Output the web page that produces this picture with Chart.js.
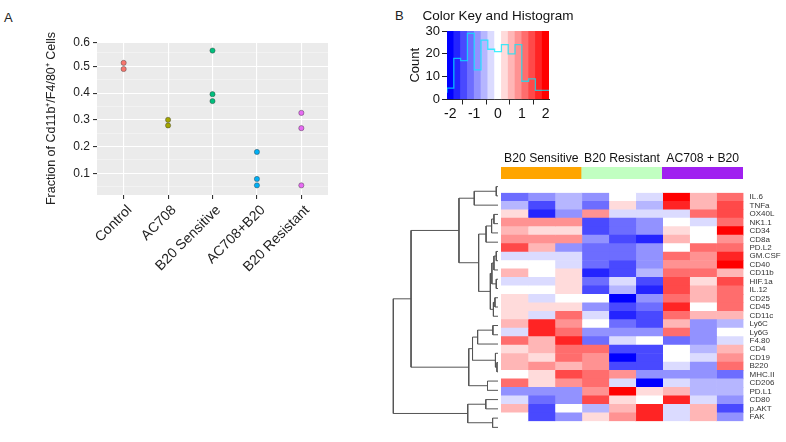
<!DOCTYPE html>
<html>
<head>
<meta charset="utf-8">
<script src="https://cdn.jsdelivr.net/npm/chart.js@4.4.1/dist/chart.umd.min.js"></script>
<style>
html, body { margin: 0; padding: 0; background: #fff; }
#page { position: relative; width: 786px; height: 442px; overflow: hidden; font-family: 'Liberation Sans', Arial, sans-serif; }
canvas { position: absolute; }
.panel { position: absolute; font-size: 13px; color: #222; }
</style>
</head>
<body>
<div id="page">
  <div class="panel" style="left:4px;top:10px">A</div>
  <div class="panel" style="left:395px;top:8px">B</div>
  <canvas id="scatterA" width="390" height="300" style="left:0;top:0"></canvas>
  <canvas id="colorKey" width="190" height="125" style="left:400px;top:0"></canvas>
  <canvas id="groupBar" width="242" height="34" style="left:501px;top:145px"></canvas>
  <canvas id="dendro" width="106" height="250" style="left:392px;top:182px"></canvas>
  <canvas id="heatmap" width="285" height="250" style="left:501px;top:182px"></canvas>
</div>
<script>
// ---- panel A data ----
const groups = ['Control', 'AC708', 'B20 Sensitive', 'AC708+B20', 'B20 Resistant'];
const groupColors = ['#F8766D', '#A3A500', '#00BF7D', '#00B0F6', '#E76BF3'];
const fractions = [
    [0.513, 0.490],
    [0.300, 0.279],
    [0.559, 0.396, 0.370],
    [0.180, 0.079, 0.055],
    [0.326, 0.269, 0.055]
];
const yMajor = [0.1, 0.2, 0.3, 0.4, 0.5, 0.588];
const yMajorLabels = ['0.1', '0.2', '0.3', '0.4', '0.5', '0.6'];
const yMinor = [0.05, 0.15, 0.25, 0.35, 0.45, 0.55];

// ---- panel B data ----
const keyTicks = [-2, -1, 0, 1, 2];
const keyCounts = [3, 5, 18, 17, 29, 13, 26, 22, 21, 24, 20, 24, 8, 9, 4];
const countTicks = [0, 10, 20, 30];

const colGroups = ['B20 Sensitive', 'B20 Resistant', 'AC708 + B20'];
const colGroupColors = ['#FFA500', '#C1FFC1', '#A020F0'];

const genes = ['IL.6', 'TNFa', 'OX40L', 'NK1.1', 'CD34', 'CD8a', 'PD.L2', 'GM.CSF', 'CD40',
    'CD11b', 'HIF.1a', 'IL.12', 'CD25', 'CD45', 'CD11c', 'Ly6C', 'Ly6G', 'F4.80', 'CD4',
    'CD19', 'B220', 'MHC.II', 'CD206', 'PD.L1', 'CD80', 'p.AKT', 'FAK'];

// z-scores, 3 sensitive, 3 resistant, 3 AC708+B20
const expr = [
    [-1.1, -0.8, -0.55, -0.8, 0, -0.25, 1.9, 0.55, 1.1],
    [-0.55, -1.35, -0.55, -1.1, 0.25, -0.55, 1.6, 0.55, 1.35],
    [0.25, -1.6, -0.8, 0.8, -0.25, -0.25, -0.25, 1.1, 1.35],
    [0.8, 0.8, 0.8, -1.35, -1.1, -0.8, 0, -0.25, 1.1],
    [0.55, 0.25, 0.25, -1.35, -1.1, -0.8, 0.25, 0, 1.9],
    [0.8, 0.8, 0.8, -0.8, -1.35, -1.6, 0.55, 0, 0.8],
    [1.35, 0.55, -0.8, -1.1, -1.1, -0.8, 0, 1.1, 1.1],
    [-0.25, -0.25, -0.25, -1.1, -1.1, -0.8, 1.1, 0.8, 1.6],
    [0, 0, -0.25, -1.1, -1.35, -0.8, 0.8, 0.8, 1.9],
    [0.55, 0, 0.25, -1.6, -1.35, -0.55, 1.1, 1.1, 0.55],
    [-0.25, -0.25, 0.25, -1.1, -0.25, -1.35, 1.35, 0.25, 1.35],
    [0, 0, 0.25, -1.35, -0.55, -1.6, 1.35, 0.55, 1.1],
    [0.25, -0.25, 0, 0, -1.9, -0.8, 1.1, 0.55, 1.1],
    [0.25, 0.25, 0.25, -0.8, -1.35, -1.1, 1.6, 0, 1.1],
    [0.25, -0.25, 1.1, -0.25, -1.6, -1.35, 1.1, 0.55, 0.55],
    [0.55, 1.6, 0.8, 0, -1.1, -1.35, 0.55, -0.8, -0.55],
    [-0.25, 1.6, 1.1, -0.8, -0.8, -0.8, 1.1, -0.8, 0],
    [1.1, 0.55, 1.6, -1.1, -0.25, 0, -1.1, -0.8, -0.25],
    [0.25, 0.55, 1.1, 1.1, -1.35, -1.35, 0, -0.55, 0.55],
    [0.55, 0.25, 1.1, 0.8, -1.9, -1.35, 0, -0.25, 0.8],
    [0.55, 0.8, 0.55, 0.8, -1.35, -1.35, -0.25, -0.8, 1.1],
    [0, 0.25, 1.35, 1.1, 0.8, -0.8, -0.8, -0.8, -1.1],
    [1.1, 0.25, 0.8, 1.1, -0.25, -1.9, -0.25, -0.55, -0.55],
    [-0.8, -0.8, -0.8, 0.8, 1.9, 0.25, 0.55, -0.55, -0.55],
    [-0.25, -1.1, -0.8, 1.35, 0.25, 0, 1.6, -0.25, -0.8],
    [0.55, -1.35, 0, -0.55, 0.55, 1.6, -0.25, 0.55, -1.35],
    [0, -1.35, -0.8, 0.25, 0.8, 1.6, -0.25, 0.55, -0.8]
];

// row dendrogram: [left, right, height], leaves are row indexes
const rowTree = [
    [
        [[[0, 1, 1.7], 2, 23.3],
         [[[[3, 4, 4], 5, 6.3], 6, 11.7],
          [[[[7, 8, 1.7], 9, 4], [10, 11, 1.7], 6], [[12, 13, 3], 14, 4.5], 7.5],
          19],
         38.3],
        [[[[15, 16, 5], 17, 20], [18, [19, 20, 1], 2.5], 25], [21, 22, 10.3], 28.7],
        85.3],
    [[23, 24, 12], [25, 26, 5.3], 29.7],
    102.7];

const keyMin = -2.14, keyMax = 2.14, nBins = 15;
const font = "'Liberation Sans', Arial, sans-serif";

Chart.defaults.animation = false;
Chart.defaults.plugins.legend.display = false;
Chart.defaults.plugins.tooltip.enabled = false;
Chart.defaults.responsive = false;

const binColor = (k) => {
    const mid = (nBins - 1) / 2;
    if (k <= mid) {
        const c = Math.round(255 * k / mid);
        return `rgb(${c},${c},255)`;
    }
    const c = Math.round(255 * (1 - (k - mid) / mid));
    return `rgb(255,${c},${c})`;
};
const valueColor = (v) => {
    let k = Math.floor((v - keyMin) / ((keyMax - keyMin) / nBins));
    k = Math.max(0, Math.min(nBins - 1, k));
    return binColor(k);
};

// ---- panel A ----
const panelBg = {
    id: 'panelBg',
    beforeDraw(chart) {
        const a = chart.chartArea, ctx = chart.ctx;
        ctx.save();
        ctx.fillStyle = '#EBEBEB';
        ctx.fillRect(a.left, a.top, a.right - a.left, a.bottom - a.top);
        ctx.restore();
    }
};

new Chart(document.getElementById('scatterA'), {
    type: 'scatter',
    data: {
        datasets: groups.map((g, i) => ({
            label: g,
            data: fractions[i].map(v => ({x: i + 1, y: v})),
            backgroundColor: groupColors[i],
            borderColor: 'rgba(60,60,60,0.55)',
            borderWidth: 0.8,
            pointRadius: 2.6
        }))
    },
    options: {
        layout: {padding: {left: 44, top: 42, right: 62, bottom: 0}},
        scales: {
            x: {
                type: 'linear', min: 0.4, max: 5.6,
                afterBuildTicks: s => { s.ticks = groups.map((g, i) => ({value: i + 1})); },
                afterFit: s => { s.height = 105; },
                grid: {color: '#fff', lineWidth: 1.1, tickColor: '#333', tickLength: 4},
                border: {display: false},
                ticks: {
                    callback: v => groups[v - 1],
                    minRotation: 45, maxRotation: 45, autoSkip: false,
                    font: {family: font, size: 14}, color: '#222', padding: 3, labelOffset: 6
                }
            },
            y: {
                min: 0.019, max: 0.591,
                afterBuildTicks: s => {
                    s.ticks = yMinor.concat(yMajor).sort((a, b) => a - b).map(v => ({value: v}));
                },
                afterFit: s => { s.width = 53; },
                grid: {
                    color: c => yMajor.includes(c.tick.value) ? '#fff' : 'rgba(255,255,255,0.6)',
                    lineWidth: c => yMajor.includes(c.tick.value) ? 1.1 : 0.6,
                    tickColor: c => yMajor.includes(c.tick.value) ? '#333' : 'rgba(0,0,0,0)',
                    tickLength: 4
                },
                border: {display: false},
                ticks: {
                    autoSkip: false,
                    callback: v => {
                        const i = yMajor.indexOf(v);
                        return i >= 0 ? yMajorLabels[i] : '';
                    },
                    font: {family: font, size: 12}, color: '#222', padding: 3
                },
                title: {
                    display: true, text: 'Fraction of Cd11b\u207A/F4/80\u207A Cells',
                    font: {family: font, size: 12.5}, color: '#222', padding: 0
                }
            }
        }
    },
    plugins: [panelBg]
});

// ---- colour key and histogram ----
const binW = (keyMax - keyMin) / nBins;
const binCenters = keyCounts.map((c, i) => keyMin + binW * (i + 0.5));
const stepPts = keyCounts.map((c, i) => ({x: keyMin + binW * i, y: c}));
stepPts.push({x: keyMax, y: keyCounts[keyCounts.length - 1]});

const keyTitle = {
    id: 'keyTitle',
    afterDraw(chart) {
        const a = chart.chartArea, ctx = chart.ctx;
        ctx.save();
        ctx.font = `13.5px ${font}`;
        ctx.fillStyle = '#111';
        ctx.textAlign = 'center';
        ctx.textBaseline = 'alphabetic';
        ctx.fillText('Color Key and Histogram', (a.left + a.right) / 2, a.top - 11);
        ctx.restore();
    }
};

new Chart(document.getElementById('colorKey'), {
    type: 'bar',
    data: {
        datasets: [
            {
                type: 'line', data: stepPts, stepped: 'after',
                borderColor: 'rgba(0,235,255,0.75)', borderWidth: 1.3, pointRadius: 0, order: 0
            },
            {
                type: 'bar', data: binCenters.map(x => ({x: x, y: 30})),
                backgroundColor: keyCounts.map((c, i) => binColor(i)),
                barPercentage: 1, categoryPercentage: 1, borderWidth: 0, order: 1
            }
        ]
    },
    options: {
        layout: {padding: {left: 8, top: 31, right: 41, bottom: 0}},
        scales: {
            x: {
                type: 'linear', min: keyMin, max: keyMax, offset: false,
                afterBuildTicks: s => { s.ticks = keyTicks.map(v => ({value: v})); },
                afterFit: s => { s.height = 25.5; },
                grid: {drawOnChartArea: false, color: '#222', tickLength: 5},
                border: {color: '#222'},
                ticks: {callback: v => String(v), font: {family: font, size: 14}, color: '#111', padding: 1}
            },
            y: {
                min: 0, max: 30,
                afterBuildTicks: s => { s.ticks = countTicks.map(v => ({value: v})); },
                afterFit: s => { s.width = 39; },
                grid: {drawOnChartArea: false, color: '#222', tickLength: 5},
                border: {color: '#222'},
                ticks: {font: {family: font, size: 13}, color: '#111', padding: 2},
                title: {display: true, text: 'Count', font: {family: font, size: 13}, color: '#111', padding: 0}
            }
        }
    },
    plugins: [keyTitle]
});

// ---- column side colours ----
new Chart(document.getElementById('groupBar'), {
    type: 'bar',
    data: {
        labels: colGroups,
        datasets: [{data: colGroups.map(() => 1), backgroundColor: colGroupColors,
            barPercentage: 1, categoryPercentage: 1, borderWidth: 0}]
    },
    options: {
        layout: {padding: 0},
        scales: {
            x: {
                position: 'top',
                afterFit: s => { s.height = 22; },
                grid: {display: false, drawTicks: false}, border: {display: false},
                ticks: {autoSkip: false, font: {family: font, size: 12.2}, color: '#111', padding: 1, maxRotation: 0}
            },
            y: {display: false, min: 0, max: 1}
        }
    }
});

// ---- row dendrogram ----
const dendroPts = [];
const walk = (node) => {
    if (typeof node === 'number') return {y: node, h: 0};
    const a = walk(node[0]), b = walk(node[1]), h = node[2];
    dendroPts.push({x: a.h, y: a.y}, {x: h, y: a.y}, {x: h, y: b.y}, {x: b.h, y: b.y}, {x: null, y: null});
    return {y: (a.y + b.y) / 2, h: h};
};
walk(rowTree);

new Chart(document.getElementById('dendro'), {
    type: 'scatter',
    data: {
        datasets: [{data: dendroPts, showLine: true, spanGaps: false, borderColor: '#555',
            borderWidth: 1, pointRadius: 0}]
    },
    options: {
        layout: {padding: 0},
        scales: {
            x: {display: false, min: 0, max: 104, reverse: true},
            y: {display: false, min: -0.5, max: genes.length - 0.5, reverse: true}
        }
    }
});

// ---- heatmap ----
new Chart(document.getElementById('heatmap'), {
    type: 'bar',
    data: {
        labels: genes,
        datasets: expr[0].map((v, c) => ({
            data: genes.map(() => 1),
            backgroundColor: genes.map((g, r) => valueColor(expr[r][c])),
            barPercentage: 1, categoryPercentage: 1, borderWidth: 0
        }))
    },
    options: {
        indexAxis: 'y',
        layout: {padding: 0},
        scales: {
            x: {display: false, stacked: true, min: 0, max: expr[0].length},
            y: {
                stacked: true, position: 'right',
                afterFit: s => { s.width = 42.5; },
                grid: {display: false, drawTicks: false}, border: {display: false},
                ticks: {autoSkip: false, font: {family: font, size: 8}, color: '#333', padding: 6}
            }
        }
    }
});
</script>
</body>
</html>
